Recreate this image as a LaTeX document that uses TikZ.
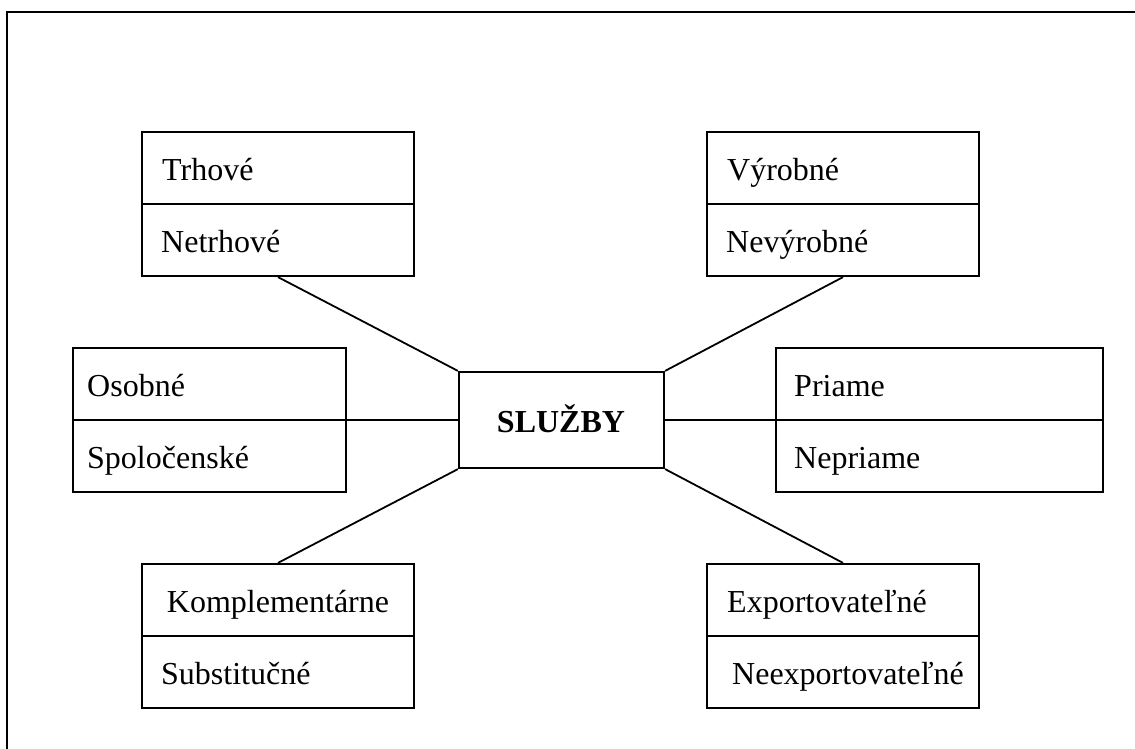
\documentclass[tikz,border=0pt]{standalone}
\usepackage{fontspec}
\setmainfont{Liberation Serif}
\begin{document}
\begin{tikzpicture}[x=1pt,y=-1pt,
  box/.style={draw,line width=2.2pt,rectangle,inner sep=0pt,minimum height=144pt},
  divider/.style={line width=2.2pt},
  link/.style={line width=1.8pt},
  lbl/.style={anchor=base west,inner sep=0pt,font=\fontsize{32}{36}\selectfont},
  frame/.style={line width=2.4pt}]
\useasboundingbox (0,0) rectangle (1135,749);
\draw[frame] (7,749) -- (7,12) -- (1135,12);
% center
\node[box,minimum width=205pt,minimum height=96pt] (c) at (561.5,420) {};
\node[anchor=base,inner sep=0pt,font=\fontsize{32}{36}\selectfont\bfseries] (ct) at (561,432) {SLUŽBY};
% boxes
\node[box,minimum width=272pt] (tl) at (278,204) {};
\node[box,minimum width=272pt] (tr) at (843,204) {};
\node[box,minimum width=273pt] (ml) at (209.5,420) {};
\node[box,minimum width=327pt] (mr) at (939.5,420) {};
\node[box,minimum width=272pt] (bl) at (278,636) {};
\node[box,minimum width=272pt] (br) at (843,636) {};
\foreach \b in {tl,tr,ml,mr,bl,br} \draw[divider] (\b.west) -- (\b.east);
% labels
\node[lbl] (t1) at (162,180) {Trhové};
\node[lbl] (t2) at (161,252) {Netrhové};
\node[lbl] (v1) at (727,180) {Výrobné};
\node[lbl] (v2) at (726,252) {Nevýrobné};
\node[lbl] (o1) at (87,396) {Osobné};
\node[lbl] (o2) at (87,468) {Spoločenské};
\node[lbl] (p1) at (794,396) {Priame};
\node[lbl] (p2) at (794,468) {Nepriame};
\node[anchor=base,inner sep=0pt,font=\fontsize{32}{36}\selectfont] (k1) at (278,612) {Komplementárne};
\node[lbl] (k2) at (161,684) {Substitučné};
\node[lbl] (e1) at (727,612) {Exportovateľné};
\node[lbl] (e2) at (732,684) {Neexportovateľné};
% connectors
\draw[link] (tl.south) -- (c.north west);
\draw[link] (tr.south) -- (c.north east);
\draw[link] (bl.north) -- (c.south west);
\draw[link] (br.north) -- (c.south east);
\draw[link] (ml.east) -- (c.west);
\draw[link] (mr.west) -- (c.east);
\end{tikzpicture}
\end{document}
